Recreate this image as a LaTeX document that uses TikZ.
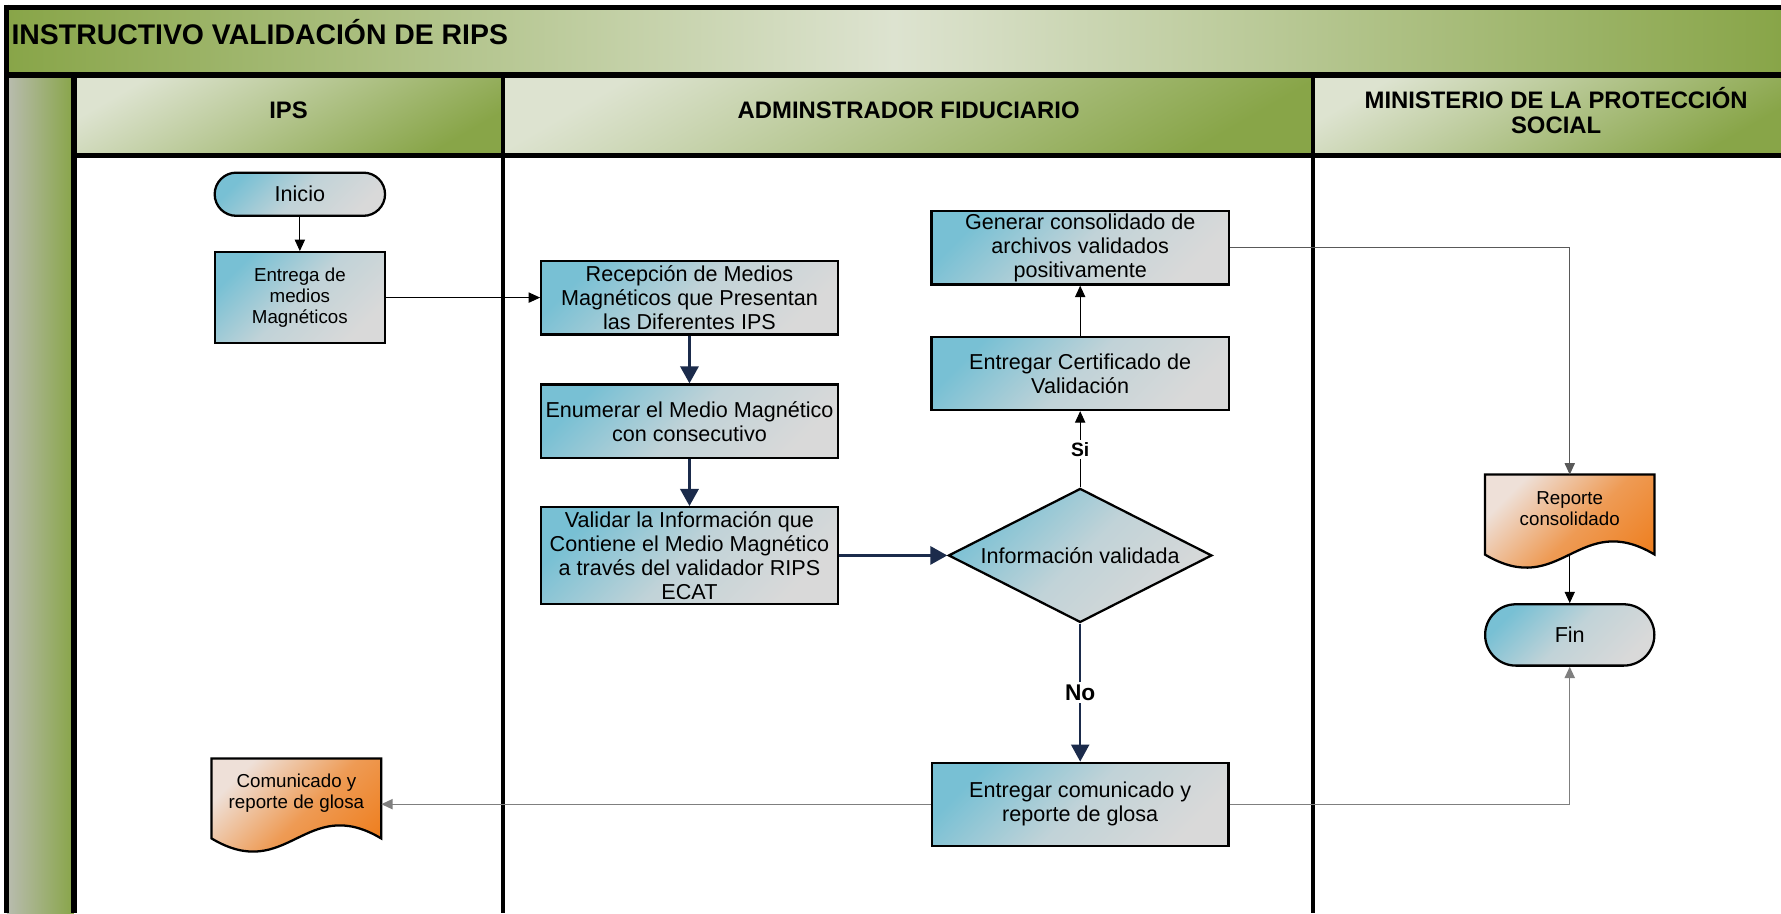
\documentclass[tikz,border=0pt]{standalone}
\usepackage{fontspec}
\setmainfont{Liberation Sans}
\usetikzlibrary{arrows.meta,shapes.geometric,shapes.misc,backgrounds}

\definecolor{verde}{HTML}{88A548}
\definecolor{verdeclaro}{HTML}{DDE3D0}
\definecolor{grisverde}{HTML}{B9BCB0}
\definecolor{azul}{HTML}{78C0D4}
\definecolor{gris}{HTML}{D9D9D9}
\definecolor{naranja}{HTML}{EE7D1C}
\definecolor{crema}{HTML}{EEE0D8}
\definecolor{marino}{HTML}{1B2B4B}
\definecolor{linea}{HTML}{7F7F7F}
\definecolor{lineaosc}{HTML}{595959}

\begin{document}
\begin{tikzpicture}[x=1pt, y=1pt,
	banda/.style={top color=verdeclaro, bottom color=verde, shading angle=30},
	carril/.style={align=center, font=\bfseries\fontsize{21}{22}\selectfont},
	proceso/.style={rectangle, draw=black, line width=2pt, top color=azul, bottom color=gris, middle color=azul!25!gris, shading angle=45, align=center, inner sep=0pt, font=\fontsize{19}{21}\selectfont},
	terminal/.style={proceso, rounded rectangle},
	decision/.style={proceso, diamond, aspect=2},
	documento/.style={align=center, inner sep=0pt, minimum width=149pt, minimum height=60pt, font=\fontsize{16.5}{18.5}\selectfont},
	docfondo/.style={draw=black, line width=2pt, top color=crema, bottom color=naranja, middle color=naranja!70!crema, shading angle=45},
	flecha/.style={draw=black, line width=0.8pt, -{Triangle[length=10pt,width=9pt]}},
	flechamarino/.style={draw=marino, line width=2.5pt, -{Triangle[length=15pt,width=16pt]}},
	flechagris/.style={draw=linea, line width=1.2pt, -{Triangle[length=10pt,width=9pt]}},
	etiqueta/.style={fill=white, inner sep=2pt, font=\bfseries\fontsize{17}{18}\selectfont}
]
	\useasboundingbox (0,0) rectangle (1568,-804);
	\clip (0,0) rectangle (1568,-804);
	\shade[left color=verde, right color=verde, middle color=verdeclaro] (6,-6) rectangle (1568,-66);
	\shade[left color=grisverde, right color=verde] (6,-66) rectangle (65,-804);
	\shade[banda] (65,-66) rectangle (443,-137);
	\shade[banda] (443,-66) rectangle (1156,-137);
	\shade[banda] (1156,-66) rectangle (1568,-137);
	\draw[line width=4.5pt] (6,-6.5) -- (1568,-6.5);
	\draw[line width=4.5pt] (6,-4) -- (6,-804);
	\draw[line width=6pt] (6,-66) -- (1568,-66);
	\draw[line width=4.5pt] (65,-137) -- (1568,-137);
	\draw[line width=5pt] (65,-66) -- (65,-804);
	\draw[line width=4pt] (443,-66) -- (443,-804);
	\draw[line width=4pt] (1156,-66) -- (1156,-804);

	\node[anchor=base west, inner sep=0pt, font=\bfseries\fontsize{25}{26}\selectfont] (titulo) at (10,-39) {INSTRUCTIVO VALIDACIÓN DE RIPS};
	\node[carril] (ips) at (254,-97) {IPS};
	\node[carril] (adm) at (800,-97) {ADMINSTRADOR FIDUCIARIO};
	\node[carril] (min) at (1370,-97) {MINISTERIO DE LA PROTECCIÓN\\SOCIAL};

	\node[terminal, minimum width=150pt, minimum height=38pt] (ini) at (264,-171) {Inicio};
	\node[proceso, minimum width=150pt, minimum height=80pt, font=\fontsize{16.5}{18.5}\selectfont] (ent) at (264,-262) {Entrega de\\medios\\Magnéticos};
	\node[proceso, minimum width=261pt, minimum height=65pt] (rec) at (607,-262) {Recepción de Medios\\Magnéticos que Presentan\\las Diferentes IPS};
	\node[proceso, minimum width=261pt, minimum height=65pt] (enu) at (607,-371) {Enumerar el Medio Magnético\\con consecutivo};
	\node[proceso, minimum width=261pt, minimum height=85pt] (val) at (607,-489) {Validar la Información que\\Contiene el Medio Magnético\\a través del validador RIPS\\ECAT};
	\node[decision, minimum width=232pt, minimum height=118pt] (dia) at (951,-489) {Información validada};
	\node[proceso, minimum width=262pt, minimum height=64pt] (cer) at (951,-329) {Entregar Certificado de\\Validación};
	\node[proceso, minimum width=262pt, minimum height=65pt] (gen) at (951,-218) {Generar consolidado de\\archivos validados\\positivamente};
	\node[proceso, minimum width=261pt, minimum height=73pt] (eco) at (951,-708) {Entregar comunicado y\\reporte de glosa};
	\node[documento] (rep) at (1382,-448) {Reporte\\consolidado};
	\node[terminal, minimum width=149pt, minimum height=54pt] (fin) at (1382,-559) {Fin};
	\node[documento] (com) at (261,-698) {Comunicado y\\reporte de glosa};

	\draw[flecha] (ini) -- (ent);
	\draw[flecha] (ent) -- (rec);
	\draw[flechamarino] (rec) -- (enu);
	\draw[flechamarino] (enu) -- (val);
	\draw[flechamarino] (val) -- (dia);
	\draw[flecha] (dia) -- node[etiqueta] {Si} (cer);
	\draw[flecha] (cer) -- (gen);
	\draw[flechagris, draw=lineaosc, line width=0.8pt] (gen.east) -| (rep.north);
	\draw[flecha] ([yshift=-10pt]rep.south) -- (fin.north);
	\draw[flechamarino, line width=1.6pt] (dia) -- node[etiqueta, font=\bfseries\fontsize{20}{21}\selectfont] {No} (eco);
	\draw[flechagris] (eco.west) -- (eco.west -| com.east);
	\draw[flechagris] (eco.east) -| (fin.south);

	\begin{scope}[on background layer]
		\fill[white] (0,0) rectangle (1568,-804);
		\shade[docfondo] (rep.north west) -- (rep.north east) -- ([yshift=-10pt]rep.south east) .. controls +(-67,40) and +(67,-40) .. ([yshift=-10pt]rep.south west) -- cycle;
		\shade[docfondo] (com.north west) -- (com.north east) -- ([yshift=-10pt]com.south east) .. controls +(-67,40) and +(67,-40) .. ([yshift=-10pt]com.south west) -- cycle;
	\end{scope}
\end{tikzpicture}
\end{document}
